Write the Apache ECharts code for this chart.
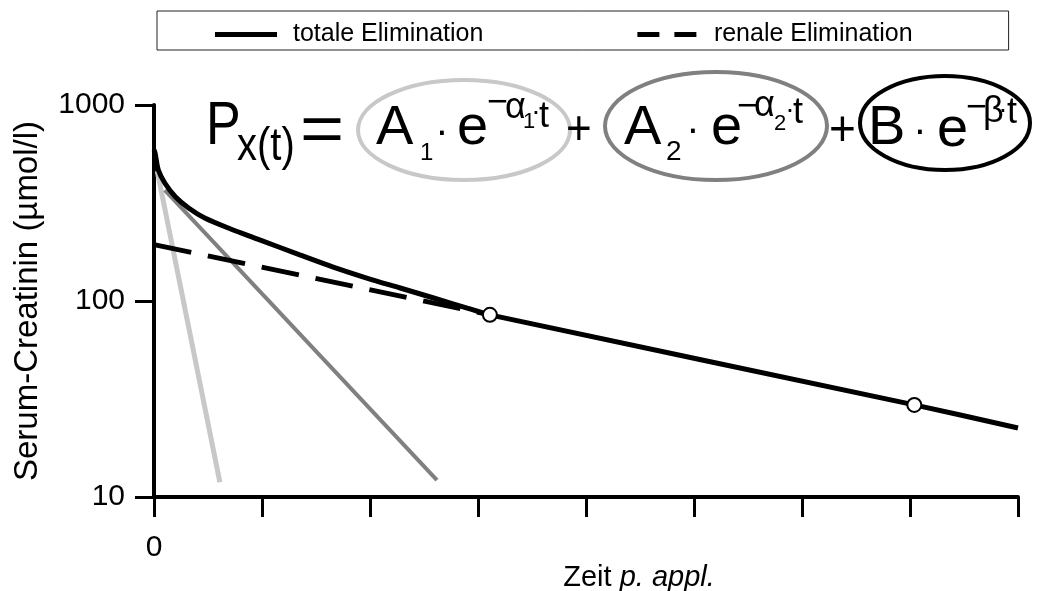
<!DOCTYPE html>
<html>
<head>
<meta charset="utf-8">
<script src="https://cdn.jsdelivr.net/npm/echarts@6/dist/echarts.min.js"></script>
<style>
  body { margin: 0; background: #fff; }
  #chart { width: 1045px; height: 591px; }
</style>
</head>
<body>
<div id="chart"></div>
<script>
// ---------- data ----------
// time in units of the x ticks, creatinine in µmol/l (log axis)
const tTotal = [0, 0.01, 0.04, 0.10, 0.20, 0.32, 0.47, 0.71, 0.96, 1.35, 1.66, 1.97, 2.28, 2.59, 2.90, 3.11, 7.04, 8.0];
const cTotal = [590, 569, 466, 400, 339, 298, 265, 233, 207, 172, 149, 131, 116.5, 103.6, 92, 85, 29.5, 22.5];

const tRenal = [0, 3.11];
const cRenal = [194, 85];

const tA1 = [0.03, 0.61];
const cA1 = [460, 11.9];

const tA2 = [0.10, 2.62];
const cA2 = [368, 12.2];

const tMark = [3.11, 7.04];
const cMark = [85, 29.5];

const xTicks = [0, 1, 2, 3, 4, 5, 6, 7, 8];
const xLabels = ["0", "", "", "", "", "", "", "", ""];

const FONT = "Liberation Sans, Arial, sans-serif";

function pairs(xs, ys) {
    return xs.map((x, i) => [x, ys[i]]);
}

// ---------- formula (annotation) ----------
// [text, x, y, fontSize, align, scaleX, scaleY]
const formulaParts = [
    ["P", 206, 127, 52, "left", 1, 1.18],
    ["x(t)", 237, 147, 40, "left", 1, 1.15],
    ["=", 300, 132, 56, "left", 1.35, 1.2],
    ["A", 376, 129, 56, "left", 1, 1],
    ["1", 420, 153, 24, "left", 1, 1],
    ["·", 442, 133, 40, "center", 1, 1],
    ["e", 457, 129, 56, "left", 1, 1],
    ["−", 487, 103, 36, "left", 1, 1],
    ["α", 505, 108, 36, "left", 1, 1],
    ["1", 523, 122, 22, "left", 1, 1],
    ["·", 536, 112, 28, "center", 1, 1],
    ["t", 539, 117, 36, "left", 1, 1],
    ["+", 566, 131, 44, "left", 1, 1.1],
    ["A", 624, 129, 56, "left", 1, 1],
    ["2", 666, 152, 28, "left", 1, 1],
    ["·", 693, 131, 40, "center", 1, 1],
    ["e", 711, 129, 56, "left", 1, 1],
    ["−", 737, 107, 36, "left", 1, 1],
    ["α", 754, 106, 36, "left", 1, 1],
    ["2", 774, 124, 22, "left", 1, 1],
    ["·", 790, 110, 28, "center", 1, 1],
    ["t", 793, 113, 36, "left", 1, 1],
    ["+", 829, 131, 46, "left", 1, 1.1],
    ["B", 868, 129, 56, "left", 1, 1],
    ["·", 920, 132, 40, "center", 1, 1],
    ["e", 937, 131, 56, "left", 1, 1],
    ["−", 966, 108, 36, "left", 1, 1],
    ["β", 983, 112, 36, "left", 1, 1],
    ["·", 1003, 110, 28, "center", 1, 1],
    ["t", 1007, 113, 36, "left", 1, 1]
];

// [cx, cy, rx, ry, colour]
const ellipses = [
    [464, 130, 106, 50, "#c8c8c8"],
    [716, 126, 111, 54, "#808080"],
    [945, 123, 85, 47, "#000000"]
];

const graphics = [];

ellipses.forEach(e => {
    graphics.push({
        type: "ellipse",
        shape: { cx: e[0], cy: e[1], rx: e[2], ry: e[3] },
        style: { fill: "none", stroke: e[4], lineWidth: 4 },
        z: 10
    });
});

formulaParts.forEach(p => {
    graphics.push({
        type: "text",
        x: p[1],
        y: p[2],
        scaleX: p[5],
        scaleY: p[6],
        style: {
            text: p[0],
            x: 0,
            y: 0,
            fill: "#000",
            fontSize: p[3],
            fontFamily: FONT,
            align: p[4],
            verticalAlign: "middle"
        },
        z: 11
    });
});

// ---------- chart ----------
const chart = echarts.init(document.getElementById("chart"));

chart.setOption({
    animation: false,
    backgroundColor: "#fff",
    textStyle: { fontFamily: FONT, color: "#000" },
    grid: {
        left: 154,
        right: 27,
        top: 105,
        bottom: 94,
        containLabel: false,
        outerBoundsMode: "none"
    },
    legend: {
        left: 157,
        top: 11,
        padding: [11, 96, 3, 58],
        itemWidth: 62,
        itemHeight: 5,
        itemGap: 154,
        borderColor: "#222",
        borderWidth: 1,
        textStyle: {
            fontSize: 25,
            color: "#000",
            fontFamily: FONT,
            padding: [0, 0, 0, 11]
        },
        data: [
            {
                name: "totale Elimination",
                icon: "rect",
                itemStyle: { color: "#000" }
            },
            {
                name: "renale Elimination",
                icon: "path://M0,0H22V5H0Z M37,0H59V5H37Z",
                itemStyle: { color: "#000" }
            }
        ]
    },
    xAxis: {
        type: "value",
        min: 0,
        max: 8,
        interval: 1,
        name: "{n|Zeit }{i|p. appl.}",
        nameLocation: "middle",
        nameGap: 66,
        nameMoveOverlap: false,
        nameTextStyle: {
            padding: [0, 0, 0, 106],
            rich: {
                n: { fontSize: 29, fontFamily: FONT, color: "#000" },
                i: { fontSize: 29, fontFamily: FONT, color: "#000", fontStyle: "italic" }
            }
        },
        axisLine: { show: true, onZero: false, lineStyle: { color: "#000", width: 4 } },
        axisTick: { show: true, inside: false, length: 20, lineStyle: { color: "#000", width: 3 } },
        axisLabel: {
            margin: 36,
            fontSize: 30,
            color: "#000",
            fontFamily: FONT,
            formatter: v => xLabels[xTicks.indexOf(Math.round(v))] || ""
        },
        splitLine: { show: false }
    },
    yAxis: {
        type: "log",
        logBase: 10,
        min: 10,
        max: 1000,
        name: "Serum-Creatinin (µmol/l)",
        nameLocation: "middle",
        nameRotate: 90,
        nameGap: 110,
        nameMoveOverlap: false,
        nameTextStyle: { fontSize: 33, fontFamily: FONT, color: "#000" },
        axisLine: { show: true, lineStyle: { color: "#000", width: 4 } },
        axisTick: { show: true, inside: false, length: 19, lineStyle: { color: "#000", width: 3 } },
        minorTick: { show: false },
        axisLabel: {
            margin: 29,
            fontSize: 30,
            color: "#000",
            fontFamily: FONT,
            formatter: v => String(Math.round(v))
        },
        splitLine: { show: false }
    },
    graphic: graphics,
    series: [
        {
            name: "A1",
            type: "line",
            data: pairs(tA1, cA1),
            symbol: "none",
            lineStyle: { color: "#c8c8c8", width: 5 },
            z: 2
        },
        {
            name: "A2",
            type: "line",
            data: pairs(tA2, cA2),
            symbol: "none",
            lineStyle: { color: "#808080", width: 4 },
            z: 3
        },
        {
            name: "renale Elimination",
            type: "line",
            data: pairs(tRenal, cRenal),
            symbol: "none",
            color: "#000",
            lineStyle: { color: "#000", width: 5, type: [38, 17] },
            z: 4
        },
        {
            name: "totale Elimination",
            type: "line",
            data: pairs(tTotal, cTotal),
            symbol: "none",
            smooth: 0.3,
            color: "#000",
            lineStyle: { color: "#000", width: 5 },
            z: 5
        },
        {
            name: "Messpunkte",
            type: "scatter",
            data: pairs(tMark, cMark),
            symbol: "circle",
            symbolSize: 14,
            itemStyle: { color: "#fff", borderColor: "#000", borderWidth: 2, opacity: 1 },
            z: 6
        }
    ]
});
</script>
</body>
</html>
